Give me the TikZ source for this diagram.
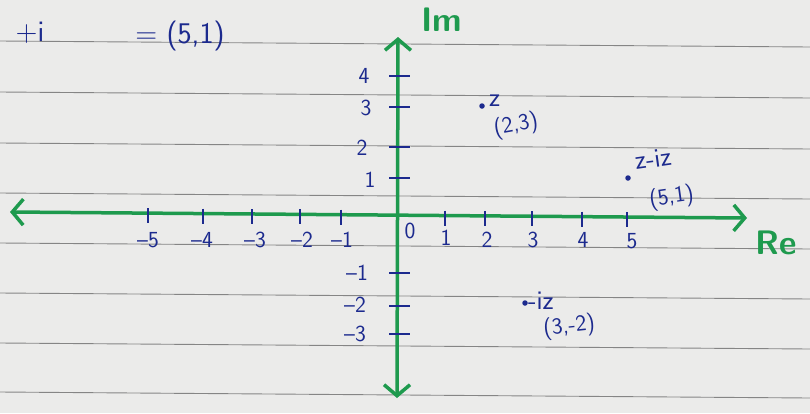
\documentclass[tikz,border=0pt]{standalone}
\usetikzlibrary{arrows.meta}
\definecolor{paper}{HTML}{EBEBEA}
\definecolor{rulec}{HTML}{858585}
\definecolor{axisc}{HTML}{1E9A4E}
\definecolor{ink}{HTML}{1C2A8E}
\tikzset{
 axisline/.style={draw=axisc, line width=3.5pt,
   {Straight Barb[length=11pt,width=26pt,line width=3.5pt]}-{Straight Barb[length=11pt,width=26pt,line width=3.5pt]}},
 tickmark/.style={draw=ink, line width=1.5pt},
 lbl/.style={text=ink, font=\fontsize{23}{25}\selectfont\sffamily, inner sep=0pt},
 ptlbl/.style={text=ink, font=\fontsize{27}{29}\selectfont\sffamily, inner sep=0pt},
 biglbl/.style={text=ink, font=\fontsize{30}{32}\selectfont\sffamily, inner sep=0pt},
 axlbl/.style={text=axisc, font=\fontsize{34}{36}\selectfont\bfseries\sffamily, inner sep=0pt},
 ruled/.style={draw=rulec, line width=0.9pt},
 ptdot/.style={circle, fill=ink, inner sep=0pt, minimum size=5.5pt}
}
\begin{document}
\begin{tikzpicture}[x=1pt,y=-1pt]
\fill[paper] (0,0) rectangle (810,413);
\useasboundingbox (0,0) rectangle (810,413);
% ruled paper lines
\foreach \y in {41,92,143,193,243,293,343,392} \draw[ruled] (0,\y) -- (810,\y+6);
% axes
\coordinate (xl) at (10,212);
\coordinate (xr) at (747,218);
\coordinate (yt) at (398,37);
\coordinate (yb) at (397,398);
\draw[axisline] (xl) -- (xr);
\draw[axisline] (yb) -- (yt);
\node[axlbl] (im) at (442,20) {Im};
\node[axlbl] (re) at (776,243) {Re};
% x ticks
\foreach \x/\y in {148/213.1,203/213.6,252/214,300/214.4,341/214.7,445/215.5,485/215.9,532/216.2,582/216.7,627/217}
  \draw[tickmark] (\x,\y-5) -- (\x,\y+10);
\node[lbl] (lm5) at (148,240) {{--}5};
\node[lbl] (lm4) at (202,240) {{--}4};
\node[lbl] (lm3) at (255,240) {{--}3};
\node[lbl] (lm2) at (302,240) {{--}2};
\node[lbl] (lm1) at (342,240) {{--}1};
\node[lbl] (l0) at (410,231) {0};
\node[lbl] (lp1) at (446,238) {1};
\node[lbl] (lp2) at (487,240) {2};
\node[lbl] (lp3) at (533,240) {3};
\node[lbl] (lp4) at (583,240) {4};
\node[lbl] (lp5) at (632,241) {5};
% y ticks
\foreach \y in {76,107,147,178,273,306,334}
  \draw[tickmark] (389,\y) -- (410,\y);
\node[lbl] (ly4) at (364,76) {4};
\node[lbl] (ly3) at (366,108) {3};
\node[lbl] (ly2) at (362,148) {2};
\node[lbl] (ly1) at (370,180) {1};
\node[lbl] (lym1) at (357,273) {{--}1};
\node[lbl] (lym2) at (355,305) {{--}2};
\node[lbl] (lym3) at (355,334) {{--}3};
% points
\node[ptdot] (z) at (482,106) {};
\node[ptlbl, anchor=south west] (zl) at (489,107) {z};
\node[lbl, rotate=10, anchor=north] (zc) at (514,114) {(2,3)};
\node[ptdot] (w) at (628,178) {};
\node[ptlbl, rotate=8, anchor=south west] (wl) at (636,170) {z-iz};
\node[lbl, rotate=8, anchor=north] (wc) at (670,186) {(5,1)};
\node[ptdot] (v) at (525,303) {};
\node[ptlbl, anchor=south west] (vl) at (528,310) {-iz};
\node[lbl, rotate=6, anchor=north] (vc) at (568,315) {(3,-2)};
% top text
\node[biglbl] (top1) at (30,33) {+i};
\node[biglbl] (top2) at (180,36) {= (5,1)};
\end{tikzpicture}
\end{document}
